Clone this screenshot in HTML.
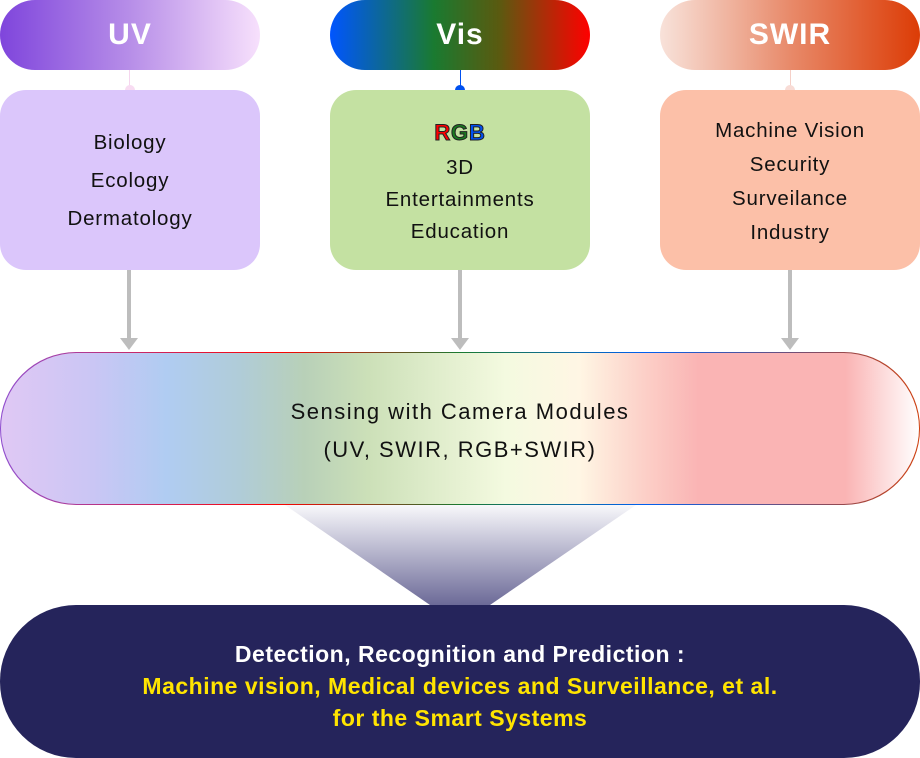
<!DOCTYPE html>
<html><head><meta charset="utf-8"><style>
*{margin:0;padding:0;box-sizing:border-box}
body{width:920px;height:758px;background:#fff;position:relative;overflow:hidden;font-family:"Liberation Sans",sans-serif}
.a{position:absolute}
.pill{top:0;width:260px;height:70px;border-radius:35px;color:#fff;font-weight:bold;font-size:30px;letter-spacing:1px;display:flex;align-items:center;justify-content:center}
.box{top:90px;width:260px;height:180px;border-radius:26px;display:flex;flex-direction:column;align-items:center;justify-content:center;font-size:20.5px;letter-spacing:0.8px;color:#111;text-align:center}
.line{width:4px;background:#bdbdbd;top:270px;height:70px}
.head{width:0;height:0;border-left:9px solid transparent;border-right:9px solid transparent;border-top:12px solid #bdbdbd;top:338px}
</style></head><body>
<div class="a pill" style="left:0;background:linear-gradient(90deg,#7f45dc,#b78ee8 50%,#f7e0fc)">UV</div>
<div class="a pill" style="left:330px;background:linear-gradient(90deg,#0055ff,#1a7a30 40%,#5a5a10 65%,#ff0000)">Vis</div>
<div class="a pill" style="left:660px;background:linear-gradient(90deg,#f8e2da,#e88a6a 50%,#dc3c06)">SWIR</div>
<div class="a" style="left:129px;top:70px;width:1px;height:20px;background:#f5d6ee"></div>
<div class="a" style="left:125px;top:85px;width:10px;height:10px;border-radius:50%;background:#f8dcf2"></div>
<div class="a" style="left:460px;top:70px;width:1px;height:20px;background:#0050f0"></div>
<div class="a" style="left:455px;top:85px;width:10px;height:10px;border-radius:50%;background:#0050f0"></div>
<div class="a" style="left:790px;top:70px;width:1px;height:20px;background:#f5d0c8"></div>
<div class="a" style="left:785px;top:85px;width:10px;height:10px;border-radius:50%;background:#f8dcd6"></div>
<div class="a box" style="left:0;background:#dbc6fb;line-height:38px;padding-top:2px">Biology<br>Ecology<br>Dermatology</div>
<div class="a box" style="left:330px;background:#c4e1a2;line-height:32px;padding-top:2px"><div style="font-weight:bold;font-size:22px;line-height:38px;-webkit-text-stroke:1px #222"><span style="color:#f00">R</span><span style="color:#1a7a20">G</span><span style="color:#0050f0">B</span></div>3D<br>Entertainments<br>Education</div>
<div class="a box" style="left:660px;background:#fcc0a8;line-height:34px;padding-top:4px">Machine Vision<br>Security<br>Surveilance<br>Industry</div>
<div class="a line" style="left:127px"></div><div class="a head" style="left:120px"></div>
<div class="a line" style="left:458px"></div><div class="a head" style="left:451px"></div>
<div class="a line" style="left:788px"></div><div class="a head" style="left:781px"></div>
<div class="a" style="left:0;top:352px;width:920px;height:153px;border-radius:76px;padding:1px;background:linear-gradient(90deg,#9050d0,#ff0000 30%,#1a7a30 50%,#0060f0 70%,#d04010)">
<div style="width:100%;height:100%;border-radius:76px;background:linear-gradient(90deg,#e0c8f4,#cac6f4 10%,#b0ccf2 18%,#b0ccd8 26%,#b8d0b8 33%,#cce0b8 40%,#f4fae0 55%,#fff6e4 63%,#fcd0c8 70%,#fab4b4 76%,#fab4b4 92%,#fff);display:flex;flex-direction:column;align-items:center;justify-content:center;font-size:22px;letter-spacing:1.5px;line-height:38px;color:#111;padding-top:4px">
<div>Sensing with Camera Modules</div><div>(UV, SWIR, RGB+SWIR)</div></div></div>
<svg class="a" style="left:0;top:505px" width="920" height="100"><defs><linearGradient id="g" x1="0" y1="0" x2="0" y2="1"><stop offset="0" stop-color="#f8f8fb"/><stop offset="1" stop-color="#6c6a98"/></linearGradient></defs><polygon points="285,0 636,0 490,100 430,100" fill="url(#g)"/></svg>
<div class="a" style="left:0;top:605px;width:920px;height:153px;border-radius:76px;background:#25245b;display:flex;flex-direction:column;align-items:center;justify-content:center;font-size:23px;letter-spacing:0.5px;line-height:32px;color:#fff;font-weight:bold;padding-top:8px">
<div>Detection, Recognition and Prediction :</div>
<div style="color:#ffe400">Machine vision, Medical devices and Surveillance, et al.</div>
<div style="color:#ffe400">for the Smart Systems</div></div>
</body></html>
